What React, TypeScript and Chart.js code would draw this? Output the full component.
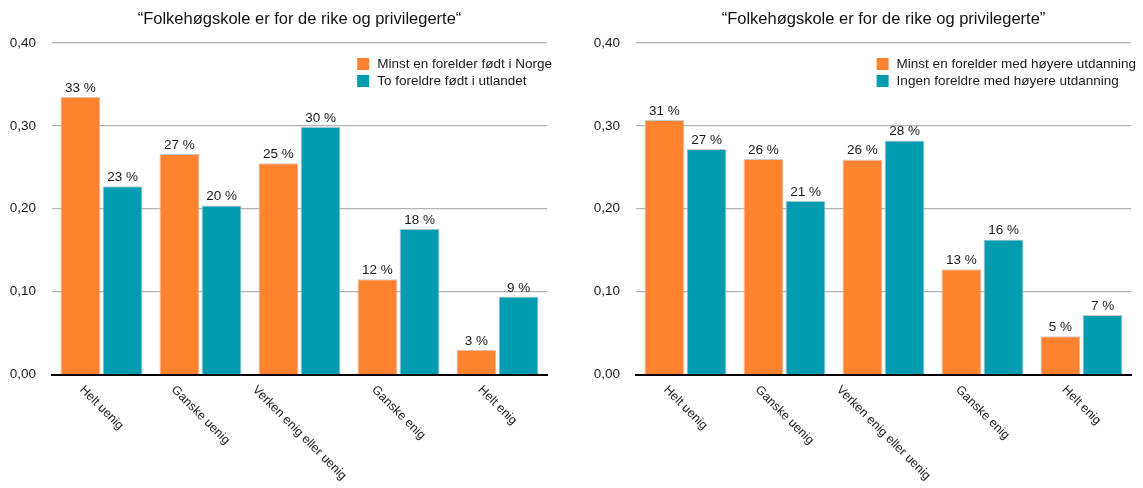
import { useEffect, useRef } from 'react';
import { Chart, registerables } from 'chart.js';

Chart.register(...registerables);

// ---------- data ----------
const categories = ['Helt uenig', 'Ganske uenig', 'Verken enig eller uenig', 'Ganske enig', 'Helt enig'];
const yTickValues = [0, 0.1, 0.2, 0.3, 0.4];

const leftTitle = '“Folkehøgskole er for de rike og privilegerte“';
const leftSeriesNames = ['Minst en forelder født i Norge', 'To foreldre født i utlandet'];
const leftNorge = [0.335, 0.266, 0.255, 0.115, 0.030];
const leftUtland = [0.227, 0.204, 0.299, 0.176, 0.094];
const leftNorgeLabels = ['33 %', '27 %', '25 %', '12 %', '3 %'];
const leftUtlandLabels = ['23 %', '20 %', '30 %', '18 %', '9 %'];

const rightTitle = '“Folkehøgskole er for de rike og privilegerte”';
const rightSeriesNames = ['Minst en forelder med høyere utdanning', 'Ingen foreldre med høyere utdanning'];
const rightHoy = [0.307, 0.260, 0.2595, 0.127, 0.0463];
const rightIngen = [0.272, 0.2096, 0.2825, 0.163, 0.0717];
const rightHoyLabels = ['31 %', '26 %', '26 %', '13 %', '5 %'];
const rightIngenLabels = ['27 %', '21 %', '28 %', '16 %', '7 %'];

const ORANGE = '#FF832E';
const TEAL = '#019CAF';
const FONT = 'Helvetica, Arial, "Liberation Sans", sans-serif';

type PanelProps = {
  title: string;
  names: string[];
  a: number[];
  b: number[];
  aLabels: string[];
  bLabels: string[];
  rightPad: number;
};

const decorPlugin = {
  id: 'decor',
  afterDraw(chart: any, _args: any, opts: any) {
    const ctx = chart.ctx as CanvasRenderingContext2D;
    const ca = chart.chartArea;
    ctx.save();
    // title
    ctx.fillStyle = '#111';
    ctx.font = `16.5px ${FONT}`;
    ctx.textAlign = 'center';
    ctx.textBaseline = 'middle';
    ctx.fillText(opts.title, (ca.left + ca.right) / 2, 19);

    // bar value labels
    ctx.font = `13.5px ${FONT}`;
    ctx.textBaseline = 'alphabetic';
    ctx.fillStyle = '#1a1a1a';
    chart.data.datasets.forEach((ds: any, di: number) => {
      const meta = chart.getDatasetMeta(di);
      const labels = opts.barLabels[di];
      meta.data.forEach((el: any, i: number) => {
        ctx.fillText(labels[i], el.x, el.y - 5);
      });
    });

    // legend (inside plot, top right)
    ctx.font = `13.5px ${FONT}`;
    ctx.textBaseline = 'middle';
    ctx.textAlign = 'left';
    const textRight = ca.right + 5;
    const widths = chart.data.datasets.map((ds: any) => ctx.measureText(ds.label).width);
    const maxW = Math.max(...widths);
    const textLeft = textRight - maxW;
    const rows = [64, 81];
    chart.data.datasets.forEach((ds: any, di: number) => {
      const y = rows[di];
      ctx.fillStyle = ds.backgroundColor;
      ctx.fillRect(textLeft - 20, y - 6, 12, 12);
      ctx.fillStyle = '#1a1a1a';
      ctx.fillText(ds.label, textLeft, y);
    });

    // rotated category labels
    const xs = chart.scales.x;
    ctx.font = `12.5px ${FONT}`;
    ctx.fillStyle = '#1a1a1a';
    ctx.textAlign = 'center';
    ctx.textBaseline = 'middle';
    const h = 12.5;
    chart.data.labels.forEach((lab: string, i: number) => {
      const x = xs.getPixelForValue(i);
      const w = ctx.measureText(lab).width;
      const cy = ca.bottom + 9 + (w + h) * 0.3536;
      ctx.save();
      ctx.translate(x, cy);
      ctx.rotate(Math.PI / 4);
      ctx.fillText(lab, 0, 0);
      ctx.restore();
    });
    ctx.restore();
  },
};

function Panel(props: PanelProps) {
  const ref = useRef<HTMLCanvasElement | null>(null);
  useEffect(() => {
    if (!ref.current) return;
    const chart = new Chart(ref.current, {
      type: 'bar',
      data: {
        labels: categories,
        datasets: [
          {
            label: props.names[0],
            data: props.a,
            backgroundColor: ORANGE,
            borderColor: '#c9c9c9',
            borderWidth: 1,
            categoryPercentage: 0.85,
            barPercentage: 0.95,
          },
          {
            label: props.names[1],
            data: props.b,
            backgroundColor: TEAL,
            borderColor: '#c9c9c9',
            borderWidth: 1,
            categoryPercentage: 0.85,
            barPercentage: 0.95,
          },
        ],
      },
      options: {
        animation: false,
        responsive: false,
        maintainAspectRatio: false,
        layout: { padding: { left: 0, right: props.rightPad, top: 43, bottom: 113.5 } },
        plugins: {
          legend: { display: false },
          title: { display: false },
          tooltip: { enabled: false },
          decor: {
            title: props.title,
            barLabels: [props.aLabels, props.bLabels],
          },
        } as any,
        scales: {
          x: {
            grid: { display: false, drawTicks: false },
            ticks: { display: false },
            border: { display: true, color: '#000', width: 2 },
            afterFit: (s: any) => {
              s.height = 0;
            },
          },
          y: {
            min: 0,
            max: 0.4,
            afterBuildTicks: (s: any) => {
              s.ticks = yTickValues.map((v) => ({ value: v }));
            },
            afterFit: (s: any) => {
              s.width = 52;
            },
            grid: {
              drawTicks: false,
              color: (c: any) => (c.tick && c.tick.value === 0 ? 'rgba(0,0,0,0)' : '#b4b4b4'),
              lineWidth: 1.2,
            },
            border: { display: false },
            ticks: {
              padding: 16,
              color: '#1a1a1a',
              font: { family: FONT, size: 13.5 },
              callback: (v: any) => Number(v).toFixed(2).replace('.', ','),
            },
          },
        },
      },
      plugins: [decorPlugin],
    });
    return () => chart.destroy();
  }, []);
  return <canvas ref={ref} />;
}

export default function App() {
  return (
    <div style={{ position: 'absolute', left: 0, top: 0, width: 1143, height: 488, background: '#fff', overflow: 'hidden' }}>
      <div style={{ position: 'absolute', left: 0, top: 0, width: 571, height: 488 }}>
        <PanelWrap
          width={571}
          title={leftTitle}
          names={leftSeriesNames}
          a={leftNorge}
          b={leftUtland}
          aLabels={leftNorgeLabels}
          bLabels={leftUtlandLabels}
          rightPad={24}
        />
      </div>
      <div style={{ position: 'absolute', left: 584, top: 0, width: 559, height: 488 }}>
        <PanelWrap
          width={559}
          title={rightTitle}
          names={rightSeriesNames}
          a={rightHoy}
          b={rightIngen}
          aLabels={rightHoyLabels}
          bLabels={rightIngenLabels}
          rightPad={12}
        />
      </div>
    </div>
  );
}

function PanelWrap(props: PanelProps & { width: number }) {
  const ref = useRef<HTMLDivElement | null>(null);
  return (
    <div ref={ref} style={{ width: props.width, height: 488 }}>
      <SizedPanel {...props} />
    </div>
  );
}

function SizedPanel(props: PanelProps & { width: number }) {
  const ref = useRef<HTMLCanvasElement | null>(null);
  useEffect(() => {
    if (!ref.current) return;
    const canvas = ref.current;
    canvas.width = props.width;
    canvas.height = 488;
    canvas.style.width = props.width + 'px';
    canvas.style.height = '488px';
    const chart = new Chart(canvas, {
      type: 'bar',
      data: {
        labels: categories,
        datasets: [
          {
            label: props.names[0],
            data: props.a,
            backgroundColor: ORANGE,
            borderColor: '#c9c9c9',
            borderWidth: 1,
            categoryPercentage: 0.85,
            barPercentage: 0.95,
          },
          {
            label: props.names[1],
            data: props.b,
            backgroundColor: TEAL,
            borderColor: '#c9c9c9',
            borderWidth: 1,
            categoryPercentage: 0.85,
            barPercentage: 0.95,
          },
        ],
      },
      options: {
        animation: false,
        responsive: false,
        maintainAspectRatio: false,
        devicePixelRatio: 1,
        layout: { padding: { left: 0, right: props.rightPad, top: 43, bottom: 113.5 } },
        plugins: {
          legend: { display: false },
          title: { display: false },
          tooltip: { enabled: false },
          decor: {
            title: props.title,
            barLabels: [props.aLabels, props.bLabels],
          },
        } as any,
        scales: {
          x: {
            grid: { display: false, drawTicks: false },
            ticks: { display: false },
            border: { display: true, color: '#000', width: 2 },
            afterFit: (s: any) => {
              s.height = 0;
            },
          },
          y: {
            min: 0,
            max: 0.4,
            afterBuildTicks: (s: any) => {
              s.ticks = yTickValues.map((v) => ({ value: v }));
            },
            afterFit: (s: any) => {
              s.width = 52;
            },
            grid: {
              drawTicks: false,
              color: (c: any) => (c.tick && c.tick.value === 0 ? 'rgba(0,0,0,0)' : '#b4b4b4'),
              lineWidth: 1.2,
            },
            border: { display: false },
            ticks: {
              padding: 16,
              color: '#1a1a1a',
              font: { family: FONT, size: 13.5 },
              callback: (v: any) => Number(v).toFixed(2).replace('.', ','),
            },
          },
        },
      },
      plugins: [decorPlugin],
    });
    return () => chart.destroy();
  }, []);
  return <canvas ref={ref} width={props.width} height={488} />;
}
